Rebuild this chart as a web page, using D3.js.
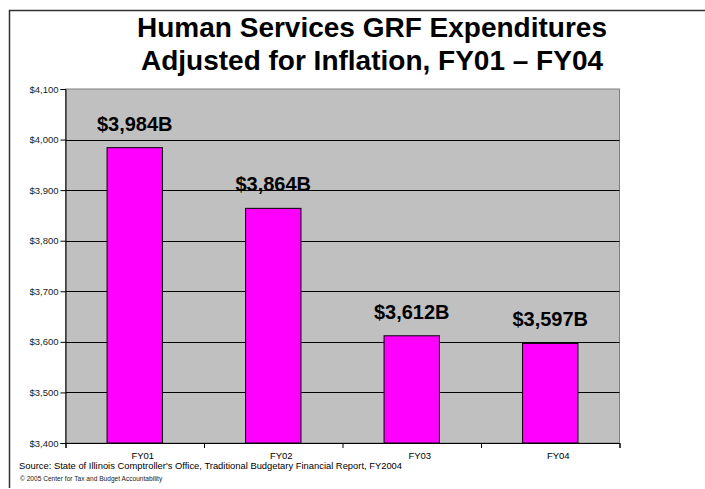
<!DOCTYPE html>
<html>
<head>
<meta charset="utf-8">
<script src="https://cdn.jsdelivr.net/npm/d3@7"></script>
<style>
  body { margin: 0; background: #fff; }
  svg { display: block; font-family: Arial, "Liberation Sans", sans-serif; }
</style>
</head>
<body>
<div id="chart"></div>
<script>
// Data
const years = ["FY01", "FY02", "FY03", "FY04"];
const spending = [3984, 3864, 3612, 3597];
const valueLabels = ["$3,984B", "$3,864B", "$3,612B", "$3,597B"];
const yTicks = [3400, 3500, 3600, 3700, 3800, 3900, 4000, 4100];
const titleLines = ["Human Services GRF Expenditures", "Adjusted for Inflation, FY01 \u2013 FY04"];
const sourceText = "Source: State of Illinois Comptroller's Office, Traditional Budgetary Financial Report, FY2004";
const copyText = "\u00a9 2005 Center for Tax and Budget Accountability";

// Width and height
const WIDTH = 705;
const HEIGHT = 489;
const plot = { left: 65.5, right: 619.5, top: 89, bottom: 443 };

const svg = d3
  .select("#chart")
  .append("svg")
  .attr("width", WIDTH)
  .attr("height", HEIGHT);

// Page frame (top and left rules)
svg.append("path")
  .attr("d", "M9.5,488V10.5H705")
  .attr("fill", "none")
  .attr("stroke", "#333")
  .attr("stroke-width", 1.5);

// Title
svg.append("g")
  .selectAll("text")
  .data(titleLines)
  .enter()
  .append("text")
  .attr("x", 372)
  .attr("y", (d, i) => 37 + i * 33)
  .attr("text-anchor", "middle")
  .attr("font-size", 28)
  .attr("font-weight", "bold")
  .text((d) => d);

// Scales
const x = d3.scaleBand()
  .domain(years)
  .range([plot.left, plot.right])
  .paddingInner(0.6)
  .paddingOuter(0.3);

const xEdges = d3.scaleLinear().domain([0, years.length]).range([plot.left, plot.right]);

const y = d3.scaleLinear()
  .domain([3400, 4100])
  .range([plot.bottom, plot.top]);

// Plot background
svg.append("rect")
  .attr("x", plot.left)
  .attr("y", plot.top)
  .attr("width", plot.right - plot.left)
  .attr("height", plot.bottom - plot.top)
  .attr("fill", "#c0c0c0")
  .attr("stroke", "#808080")
  .attr("stroke-width", 1);

// Gridlines
svg.append("g")
  .selectAll("line")
  .data(yTicks.filter((t) => t > 3400 && t < 4100))
  .enter()
  .append("line")
  .attr("x1", plot.left)
  .attr("x2", plot.right)
  .attr("y1", (d) => Math.round(y(d)) + 0.5)
  .attr("y2", (d) => Math.round(y(d)) + 0.5)
  .attr("stroke", "#000")
  .attr("stroke-width", 1);

// Bars
svg.append("g")
  .selectAll("rect")
  .data(spending)
  .enter()
  .append("rect")
  .attr("x", (d, i) => x(years[i]))
  .attr("y", (d) => y(d))
  .attr("width", x.bandwidth())
  .attr("height", (d) => y(3400) - y(d))
  .attr("fill", "#ff00ff")
  .attr("stroke", "#000")
  .attr("stroke-width", 1);

// Value labels
svg.append("g")
  .selectAll("text")
  .data(spending)
  .enter()
  .append("text")
  .attr("x", (d, i) => x(years[i]) + x.bandwidth() / 2)
  .attr("y", (d) => y(d) - 17)
  .attr("text-anchor", "middle")
  .attr("font-size", 20)
  .attr("font-weight", "bold")
  .text((d, i) => valueLabels[i]);

// Y axis
const yAxis = svg.append("g")
  .attr("transform", "translate(" + plot.left + ",0)")
  .call(
    d3.axisLeft(y)
      .tickValues(yTicks)
      .tickSize(5)
      .tickPadding(2)
      .tickFormat((d) => "$" + d3.format(",")(d))
  );
yAxis.select(".domain").attr("stroke", "#000");
yAxis.selectAll("text")
  .attr("font-size", 9.5)
  .attr("fill", "#222")
  .style("font-family", "Arial, 'Liberation Sans', sans-serif");

// X axis (ticks at category edges)
const xAxis = svg.append("g")
  .attr("transform", "translate(0," + plot.bottom + ")")
  .call(
    d3.axisBottom(xEdges)
      .tickValues(d3.range(0, years.length + 1))
      .tickSize(5)
      .tickFormat("")
  );
xAxis.select(".domain").attr("stroke", "#000");

svg.append("g")
  .selectAll("text")
  .data(years)
  .enter()
  .append("text")
  .attr("x", (d) => x(d) + x.bandwidth() / 2 + 8)
  .attr("y", 459)
  .attr("text-anchor", "middle")
  .attr("font-size", 9.5)
  .text((d) => d);

// Footnotes
svg.append("text")
  .attr("x", 19)
  .attr("y", 468.5)
  .attr("font-size", 9.4)
  .text(sourceText);

svg.append("text")
  .attr("x", 20)
  .attr("y", 481)
  .attr("font-size", 6.6)
  .attr("fill", "#222")
  .text(copyText);
</script>
</body>
</html>
